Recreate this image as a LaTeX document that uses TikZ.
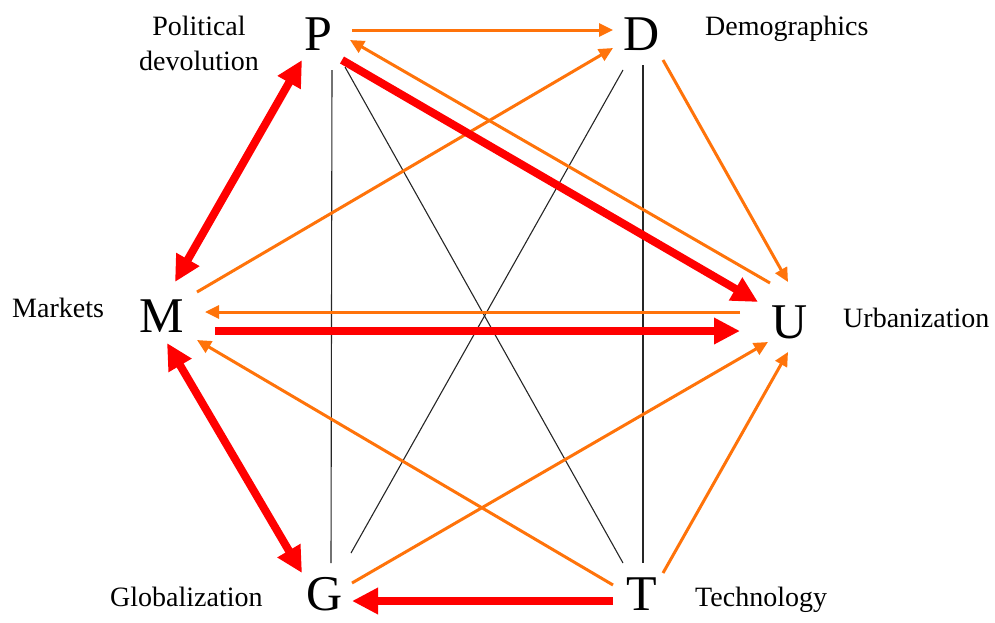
\documentclass[tikz,border=0pt]{standalone}
\usepackage{fontspec}
\setmainfont{Liberation Serif}
\usetikzlibrary{arrows.meta,calc}
\definecolor{orng}{RGB}{255,115,10}
\definecolor{rd}{RGB}{255,0,0}
\tikzset{
  big/.style={inner sep=0pt,font=\fontsize{50}{50}\selectfont},
  lab/.style={inner sep=0pt,font=\fontsize{28}{35}\selectfont},
  ornarrow/.style={draw=orng,line width=3pt,-{Triangle[length=14pt,width=13pt]}},
  redarrow/.style={draw=rd,line width=8pt,-{Triangle[length=26pt,width=25pt]}},
  redboth/.style={draw=rd,line width=8pt,{Triangle[length=26pt,width=25pt]}-{Triangle[length=26pt,width=25pt]}},
  thin/.style={draw=black!85,line width=1.1pt}
}
\begin{document}
\begin{tikzpicture}[x=1pt,y=-1pt]
\useasboundingbox (0,0) rectangle (995,622);
% main nodes
\node[big] (P) at (318,34) {P};
\node[big] (D) at (642,34) {D};
\node[big] (M) at (162,316) {M};
\node[big] (U) at (790,322) {U};
\node[big] (G) at (325,594) {G};
\node[big] (T) at (642,594) {T};
% labels
\node[lab,align=center] (lP) at (199,43) {Political\\devolution};
\node[lab,anchor=base west] (lD) at (705,35) {Demographics};
\node[lab,anchor=base west] (lM) at (12,317) {Markets};
\node[lab,anchor=base west] (lU) at (843,327) {Urbanization};
\node[lab,anchor=base west] (lG) at (110,606) {Globalization};
\node[lab,anchor=base west] (lT) at (695,606) {Technology};
% thin black lines
\draw[thin] ($(P)+(14,36)$) -- ($(G)+(6,-31)$);
\draw[thin] ($(P)+(27,33)$) -- ($(T)+(-19,-31)$);
\draw[thin] ($(D)+(-19,36)$) -- ($(G)+(26,-41)$);
\draw[thin] ($(D)+(1,31)$) -- ($(T)+(1,-31)$);
% orange arrows
\draw[ornarrow] ($(P)+(34,-4)$) -- ($(D)+(-29,-4)$);
\draw[ornarrow] ($(U)+(-20,-39)$) -- ($(P)+(32,6)$);
\draw[ornarrow] ($(M)+(35,-24)$) -- ($(D)+(-29,14)$);
\draw[ornarrow] ($(D)+(21,26)$) -- ($(U)+(-2,-40)$);
\draw[ornarrow] ($(U)+(-50,-10)$) -- ($(M)+(43,-4)$);
\draw[ornarrow] ($(T)+(-29,-9)$) -- ($(M)+(35,24)$);
\draw[ornarrow] ($(G)+(27,-11)$) -- ($(U)+(-22,20)$);
\draw[ornarrow] ($(T)+(21,-21)$) -- ($(U)+(-2,30)$);
% red arrows
\draw[redarrow] ($(P)+(24,26)$) -- ($(U)+(-32,-20)$);
\draw[redboth] ($(P)+(-16,26)$) -- ($(M)+(13,-34)$);
\draw[redarrow] ($(M)+(53,15)$) -- ($(U)+(-50,9)$);
\draw[redboth] ($(M)+(5,27)$) -- ($(G)+(-23,-21)$);
\draw[redarrow] ($(T)+(-29,7)$) -- ($(G)+(27,7)$);
\end{tikzpicture}
\end{document}
